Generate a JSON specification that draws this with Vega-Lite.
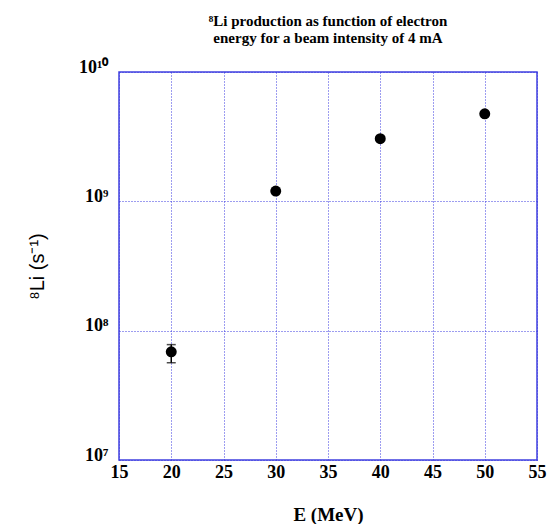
{
  "$schema": "https://vega.github.io/schema/vega-lite/v6.json",
  "autosize": "none",
  "width": 418,
  "height": 388,
  "padding": {"left": 119, "top": 72, "right": 11, "bottom": 64},
  "background": "white",
  "title": {
    "text": ["⁸Li production as function of electron", "energy for a beam intensity of 4 mA"],
    "font": "Liberation Serif",
    "fontSize": 15,
    "fontWeight": "bold",
    "color": "black",
    "anchor": "middle",
    "offset": 12,
    "lineHeight": 17
  },
  "config": {
    "view": {"stroke": "#4040e0", "strokeWidth": 1.5},
    "axis": {
      "labelFont": "Liberation Serif",
      "labelFontWeight": "bold",
      "labelFontSize": 18,
      "labelColor": "black",
      "titleColor": "black",
      "domain": false,
      "ticks": false,
      "gridColor": "#3a3ae0",
      "gridDash": [1, 2],
      "gridWidth": 1,
      "gridOpacity": 1
    }
  },
  "data": {
    "values": [
      {"E": 20, "Li": 6.87e7, "lo": 5.65e7, "hi": 7.8e7},
      {"E": 30, "Li": 1.2e9, "lo": 1.2e9, "hi": 1.2e9},
      {"E": 40, "Li": 3.05e9, "lo": 3.05e9, "hi": 3.05e9},
      {"E": 50, "Li": 4.75e9, "lo": 4.75e9, "hi": 4.75e9}
    ]
  },
  "encoding": {
    "x": {
      "field": "E",
      "type": "quantitative",
      "scale": {"domain": [15, 55], "nice": false, "zero": false},
      "axis": {
        "values": [15, 20, 25, 30, 35, 40, 45, 50, 55],
        "title": "E (MeV)",
        "titleFont": "Liberation Serif",
        "titleFontSize": 19,
        "titleFontWeight": "bold",
        "titlePadding": 24,
        "labelPadding": 3,
        "labelFlush": false
      }
    },
    "y": {
      "field": "Li",
      "type": "quantitative",
      "scale": {"type": "log", "domain": [1e7, 1e10], "nice": false},
      "axis": {
        "values": [1e7, 1e8, 1e9, 1e10],
        "labelExpr": "datum.value >= 1e10 ? '10¹⁰' : datum.value >= 1e9 ? '10⁹' : datum.value >= 1e8 ? '10⁸' : '10⁷'",
        "labelBaseline": "alphabetic",
        "labelPadding": 11,
        "title": "⁸Li (s⁻¹)",
        "titleFont": "Liberation Sans",
        "titleFontSize": 20,
        "titleFontWeight": "normal",
        "titlePadding": 31
      }
    }
  },
  "layer": [
    {
      "mark": {"type": "rule", "color": "black", "strokeWidth": 1.5},
      "encoding": {"y": {"field": "lo", "type": "quantitative"}, "y2": {"field": "hi"}}
    },
    {
      "mark": {"type": "tick", "orient": "horizontal", "color": "black", "size": 9, "thickness": 1.5},
      "encoding": {"y": {"field": "lo", "type": "quantitative"}}
    },
    {
      "mark": {"type": "tick", "orient": "horizontal", "color": "black", "size": 9, "thickness": 1.5},
      "encoding": {"y": {"field": "hi", "type": "quantitative"}}
    },
    {
      "mark": {"type": "point", "filled": true, "color": "black", "opacity": 1, "size": 120, "shape": "circle"}
    }
  ]
}
